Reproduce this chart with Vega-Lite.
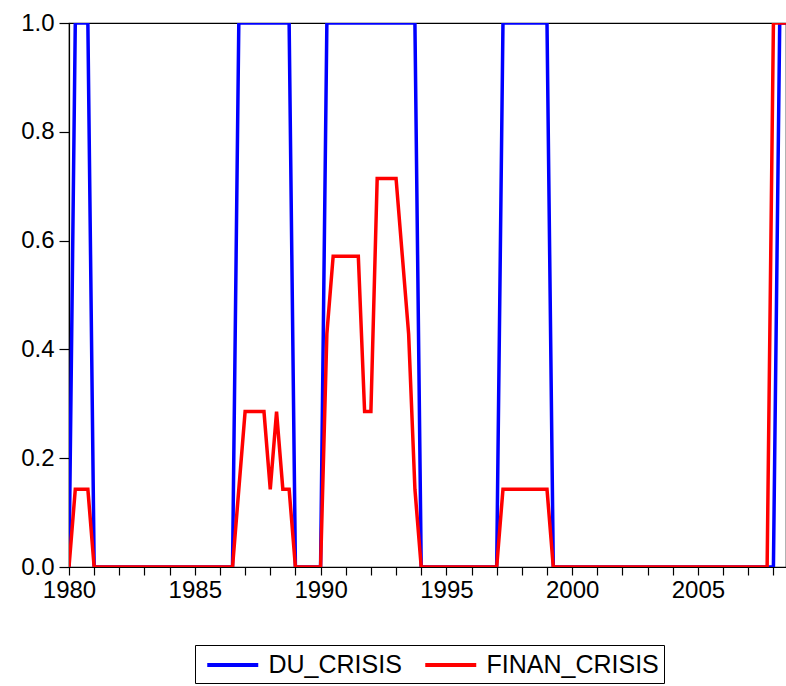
{
  "$schema": "https://vega.github.io/schema/vega-lite/v6.json",
  "autosize": "none",
  "width": 717,
  "height": 544,
  "padding": {"left": 69, "top": 23, "right": 0, "bottom": 119},
  "background": "white",
  "config": {
    "font": "Liberation Sans",
    "view": {"stroke": "black", "strokeWidth": 1.2},
    "axis": {"grid": false, "domainColor": "black", "tickColor": "black", "labelColor": "black", "labelFont": "Liberation Sans", "labelFontSize": 24, "domainWidth": 1.2, "tickWidth": 1.2}
  },
  "data": {"values": [
    {"date":1980,"DU_CRISIS":0,"FINAN_CRISIS":0},
    {"date":1980.25,"DU_CRISIS":1,"FINAN_CRISIS":0.1429},
    {"date":1980.5,"DU_CRISIS":1,"FINAN_CRISIS":0.1429},
    {"date":1980.75,"DU_CRISIS":1,"FINAN_CRISIS":0.1429},
    {"date":1981,"DU_CRISIS":0,"FINAN_CRISIS":0},
    {"date":1981.25,"DU_CRISIS":0,"FINAN_CRISIS":0},
    {"date":1981.5,"DU_CRISIS":0,"FINAN_CRISIS":0},
    {"date":1981.75,"DU_CRISIS":0,"FINAN_CRISIS":0},
    {"date":1982,"DU_CRISIS":0,"FINAN_CRISIS":0},
    {"date":1982.25,"DU_CRISIS":0,"FINAN_CRISIS":0},
    {"date":1982.5,"DU_CRISIS":0,"FINAN_CRISIS":0},
    {"date":1982.75,"DU_CRISIS":0,"FINAN_CRISIS":0},
    {"date":1983,"DU_CRISIS":0,"FINAN_CRISIS":0},
    {"date":1983.25,"DU_CRISIS":0,"FINAN_CRISIS":0},
    {"date":1983.5,"DU_CRISIS":0,"FINAN_CRISIS":0},
    {"date":1983.75,"DU_CRISIS":0,"FINAN_CRISIS":0},
    {"date":1984,"DU_CRISIS":0,"FINAN_CRISIS":0},
    {"date":1984.25,"DU_CRISIS":0,"FINAN_CRISIS":0},
    {"date":1984.5,"DU_CRISIS":0,"FINAN_CRISIS":0},
    {"date":1984.75,"DU_CRISIS":0,"FINAN_CRISIS":0},
    {"date":1985,"DU_CRISIS":0,"FINAN_CRISIS":0},
    {"date":1985.25,"DU_CRISIS":0,"FINAN_CRISIS":0},
    {"date":1985.5,"DU_CRISIS":0,"FINAN_CRISIS":0},
    {"date":1985.75,"DU_CRISIS":0,"FINAN_CRISIS":0},
    {"date":1986,"DU_CRISIS":0,"FINAN_CRISIS":0},
    {"date":1986.25,"DU_CRISIS":0,"FINAN_CRISIS":0},
    {"date":1986.5,"DU_CRISIS":0,"FINAN_CRISIS":0},
    {"date":1986.75,"DU_CRISIS":1,"FINAN_CRISIS":0.1429},
    {"date":1987,"DU_CRISIS":1,"FINAN_CRISIS":0.2857},
    {"date":1987.25,"DU_CRISIS":1,"FINAN_CRISIS":0.2857},
    {"date":1987.5,"DU_CRISIS":1,"FINAN_CRISIS":0.2857},
    {"date":1987.75,"DU_CRISIS":1,"FINAN_CRISIS":0.2857},
    {"date":1988,"DU_CRISIS":1,"FINAN_CRISIS":0.1429},
    {"date":1988.25,"DU_CRISIS":1,"FINAN_CRISIS":0.2857},
    {"date":1988.5,"DU_CRISIS":1,"FINAN_CRISIS":0.1429},
    {"date":1988.75,"DU_CRISIS":1,"FINAN_CRISIS":0.1429},
    {"date":1989,"DU_CRISIS":0,"FINAN_CRISIS":0},
    {"date":1989.25,"DU_CRISIS":0,"FINAN_CRISIS":0},
    {"date":1989.5,"DU_CRISIS":0,"FINAN_CRISIS":0},
    {"date":1989.75,"DU_CRISIS":0,"FINAN_CRISIS":0},
    {"date":1990,"DU_CRISIS":0,"FINAN_CRISIS":0},
    {"date":1990.25,"DU_CRISIS":1,"FINAN_CRISIS":0.4286},
    {"date":1990.5,"DU_CRISIS":1,"FINAN_CRISIS":0.5714},
    {"date":1990.75,"DU_CRISIS":1,"FINAN_CRISIS":0.5714},
    {"date":1991,"DU_CRISIS":1,"FINAN_CRISIS":0.5714},
    {"date":1991.25,"DU_CRISIS":1,"FINAN_CRISIS":0.5714},
    {"date":1991.5,"DU_CRISIS":1,"FINAN_CRISIS":0.5714},
    {"date":1991.75,"DU_CRISIS":1,"FINAN_CRISIS":0.2857},
    {"date":1992,"DU_CRISIS":1,"FINAN_CRISIS":0.2857},
    {"date":1992.25,"DU_CRISIS":1,"FINAN_CRISIS":0.7143},
    {"date":1992.5,"DU_CRISIS":1,"FINAN_CRISIS":0.7143},
    {"date":1992.75,"DU_CRISIS":1,"FINAN_CRISIS":0.7143},
    {"date":1993,"DU_CRISIS":1,"FINAN_CRISIS":0.7143},
    {"date":1993.25,"DU_CRISIS":1,"FINAN_CRISIS":0.5714},
    {"date":1993.5,"DU_CRISIS":1,"FINAN_CRISIS":0.4286},
    {"date":1993.75,"DU_CRISIS":1,"FINAN_CRISIS":0.1429},
    {"date":1994,"DU_CRISIS":0,"FINAN_CRISIS":0},
    {"date":1994.25,"DU_CRISIS":0,"FINAN_CRISIS":0},
    {"date":1994.5,"DU_CRISIS":0,"FINAN_CRISIS":0},
    {"date":1994.75,"DU_CRISIS":0,"FINAN_CRISIS":0},
    {"date":1995,"DU_CRISIS":0,"FINAN_CRISIS":0},
    {"date":1995.25,"DU_CRISIS":0,"FINAN_CRISIS":0},
    {"date":1995.5,"DU_CRISIS":0,"FINAN_CRISIS":0},
    {"date":1995.75,"DU_CRISIS":0,"FINAN_CRISIS":0},
    {"date":1996,"DU_CRISIS":0,"FINAN_CRISIS":0},
    {"date":1996.25,"DU_CRISIS":0,"FINAN_CRISIS":0},
    {"date":1996.5,"DU_CRISIS":0,"FINAN_CRISIS":0},
    {"date":1996.75,"DU_CRISIS":0,"FINAN_CRISIS":0},
    {"date":1997,"DU_CRISIS":0,"FINAN_CRISIS":0},
    {"date":1997.25,"DU_CRISIS":1,"FINAN_CRISIS":0.1429},
    {"date":1997.5,"DU_CRISIS":1,"FINAN_CRISIS":0.1429},
    {"date":1997.75,"DU_CRISIS":1,"FINAN_CRISIS":0.1429},
    {"date":1998,"DU_CRISIS":1,"FINAN_CRISIS":0.1429},
    {"date":1998.25,"DU_CRISIS":1,"FINAN_CRISIS":0.1429},
    {"date":1998.5,"DU_CRISIS":1,"FINAN_CRISIS":0.1429},
    {"date":1998.75,"DU_CRISIS":1,"FINAN_CRISIS":0.1429},
    {"date":1999,"DU_CRISIS":1,"FINAN_CRISIS":0.1429},
    {"date":1999.25,"DU_CRISIS":0,"FINAN_CRISIS":0},
    {"date":1999.5,"DU_CRISIS":0,"FINAN_CRISIS":0},
    {"date":1999.75,"DU_CRISIS":0,"FINAN_CRISIS":0},
    {"date":2000,"DU_CRISIS":0,"FINAN_CRISIS":0},
    {"date":2000.25,"DU_CRISIS":0,"FINAN_CRISIS":0},
    {"date":2000.5,"DU_CRISIS":0,"FINAN_CRISIS":0},
    {"date":2000.75,"DU_CRISIS":0,"FINAN_CRISIS":0},
    {"date":2001,"DU_CRISIS":0,"FINAN_CRISIS":0},
    {"date":2001.25,"DU_CRISIS":0,"FINAN_CRISIS":0},
    {"date":2001.5,"DU_CRISIS":0,"FINAN_CRISIS":0},
    {"date":2001.75,"DU_CRISIS":0,"FINAN_CRISIS":0},
    {"date":2002,"DU_CRISIS":0,"FINAN_CRISIS":0},
    {"date":2002.25,"DU_CRISIS":0,"FINAN_CRISIS":0},
    {"date":2002.5,"DU_CRISIS":0,"FINAN_CRISIS":0},
    {"date":2002.75,"DU_CRISIS":0,"FINAN_CRISIS":0},
    {"date":2003,"DU_CRISIS":0,"FINAN_CRISIS":0},
    {"date":2003.25,"DU_CRISIS":0,"FINAN_CRISIS":0},
    {"date":2003.5,"DU_CRISIS":0,"FINAN_CRISIS":0},
    {"date":2003.75,"DU_CRISIS":0,"FINAN_CRISIS":0},
    {"date":2004,"DU_CRISIS":0,"FINAN_CRISIS":0},
    {"date":2004.25,"DU_CRISIS":0,"FINAN_CRISIS":0},
    {"date":2004.5,"DU_CRISIS":0,"FINAN_CRISIS":0},
    {"date":2004.75,"DU_CRISIS":0,"FINAN_CRISIS":0},
    {"date":2005,"DU_CRISIS":0,"FINAN_CRISIS":0},
    {"date":2005.25,"DU_CRISIS":0,"FINAN_CRISIS":0},
    {"date":2005.5,"DU_CRISIS":0,"FINAN_CRISIS":0},
    {"date":2005.75,"DU_CRISIS":0,"FINAN_CRISIS":0},
    {"date":2006,"DU_CRISIS":0,"FINAN_CRISIS":0},
    {"date":2006.25,"DU_CRISIS":0,"FINAN_CRISIS":0},
    {"date":2006.5,"DU_CRISIS":0,"FINAN_CRISIS":0},
    {"date":2006.75,"DU_CRISIS":0,"FINAN_CRISIS":0},
    {"date":2007,"DU_CRISIS":0,"FINAN_CRISIS":0},
    {"date":2007.25,"DU_CRISIS":0,"FINAN_CRISIS":0},
    {"date":2007.5,"DU_CRISIS":0,"FINAN_CRISIS":0},
    {"date":2007.75,"DU_CRISIS":0,"FINAN_CRISIS":0},
    {"date":2008,"DU_CRISIS":0,"FINAN_CRISIS":1},
    {"date":2008.25,"DU_CRISIS":1,"FINAN_CRISIS":1},
    {"date":2008.5,"DU_CRISIS":1,"FINAN_CRISIS":1}
  ]},
  "transform": [{"fold": ["DU_CRISIS", "FINAN_CRISIS"], "as": ["series", "value"]}],
  "mark": {"type": "line", "strokeWidth": 3.5, "clip": true},
  "encoding": {
    "x": {
      "field": "date", "type": "quantitative",
      "scale": {"domain": [1980, 2008.5], "nice": false, "zero": false},
      "axis": {"title": null, "values": [1980,1981,1982,1983,1984,1985,1986,1987,1988,1989,1990,1991,1992,1993,1994,1995,1996,1997,1998,1999,2000,2001,2002,2003,2004,2005,2006,2007,2008], "labelExpr": "datum.value % 5 == 0 ? datum.value : ''", "tickSize": 8, "labelPadding": 3, "labelFlush": false, "labelOverlap": false}
    },
    "y": {
      "field": "value", "type": "quantitative",
      "scale": {"domain": [0, 1], "nice": false},
      "axis": {"title": null, "values": [0, 0.2, 0.4, 0.6, 0.8, 1.0], "format": ".1f", "tickSize": 10, "labelPadding": 5, "labelFlush": false}
    },
    "color": {
      "field": "series", "type": "nominal",
      "scale": {"domain": ["DU_CRISIS", "FINAN_CRISIS"], "range": ["#0000ff", "#ff0000"]},
      "legend": {
        "title": null, "orient": "none", "legendX": 126, "legendY": 622, "direction": "horizontal",
        "strokeColor": "black", "padding": 5,
        "symbolType": "M-2,0L2,0", "symbolSize": 650, "symbolStrokeWidth": 4, "symbolOffset": 17.75,
        "labelFontSize": 25, "labelFont": "Liberation Sans", "labelColor": "black", "labelOffset": 20.75, "labelLimit": 400, "columnPadding": 15
      }
    }
  }
}
